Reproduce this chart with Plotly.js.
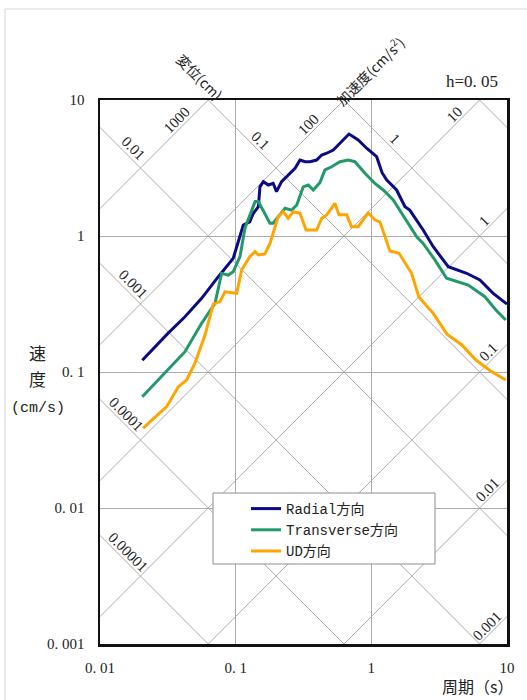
<!DOCTYPE html>
<html>
<head>
<meta charset="utf-8">
<script src="https://cdn.plot.ly/plotly-3.0.1.min.js"></script>
<style>html,body{margin:0;padding:0;background:#fff;}</style>
</head>
<body>
<div id="chart" style="width:527px;height:700px;"></div>
<script>
// ---- data (period s, pseudo velocity cm/s) ----
const radialT = [0.0205,0.0318,0.0423,0.0561,0.0745,0.0959,0.1045,0.1138,0.127,0.135,0.147,0.151,0.160,0.174,0.189,0.200,0.218,0.244,0.274,0.298,0.325,0.353,0.395,0.431,0.469,0.524,0.587,0.638,0.684,0.736,0.800,0.923,1.094,1.20,1.30,1.535,1.77,1.92,2.41,2.86,3.69,5.04,6.31,7.91,10];
const radialV = [0.122,0.193,0.255,0.348,0.502,0.685,0.908,1.205,1.27,1.47,1.64,2.30,2.51,2.37,2.44,2.12,2.51,2.81,3.15,3.62,3.52,3.52,3.62,3.94,4.06,4.29,4.81,5.23,5.62,5.37,5.08,4.42,3.83,2.92,2.58,2.18,1.64,1.55,1.107,0.834,0.594,0.532,0.475,0.379,0.316];

const transT = [0.0205,0.0318,0.0423,0.0561,0.0704,0.0788,0.0882,0.0959,0.1076,0.117,0.131,0.139,0.147,0.164,0.179,0.189,0.206,0.231,0.259,0.282,0.315,0.343,0.373,0.418,0.455,0.510,0.587,0.676,0.757,0.897,1.062,1.224,1.45,1.87,2.16,2.41,2.94,3.59,5.18,6.87,8.28,9.8];
const transV = [0.0658,0.1035,0.141,0.228,0.320,0.532,0.516,0.546,0.705,1.14,1.55,1.79,1.79,1.47,1.24,1.24,1.39,1.60,1.55,1.69,2.30,2.37,2.18,2.47,3.06,3.23,3.52,3.62,3.52,2.89,2.44,2.18,1.84,1.24,0.988,0.883,0.667,0.489,0.436,0.358,0.286,0.241];

const udT = [0.0208,0.031,0.0378,0.0435,0.0501,0.0594,0.0684,0.0766,0.0834,0.0959,0.1017,0.1107,0.127,0.139,0.147,0.164,0.179,0.206,0.224,0.244,0.266,0.298,0.330,0.395,0.431,0.469,0.539,0.577,0.658,0.715,0.800,0.949,1.062,1.157,1.37,1.60,1.98,2.24,2.86,3.61,4.65,5.90,7.48,9.8];
const udV = [0.0386,0.0556,0.078,0.0873,0.116,0.187,0.316,0.329,0.389,0.379,0.379,0.562,0.705,0.768,0.725,0.738,0.883,1.39,1.51,1.35,1.51,1.47,1.107,1.107,1.35,1.43,1.74,1.43,1.43,1.17,1.17,1.48,1.31,1.27,0.776,0.746,0.532,0.356,0.270,0.190,0.158,0.1225,0.1025,0.0873];

const seriesNames = ['Radial方向','Transverse方向','UD方向'];

// tick labels
const xTickVals = [0.01,0.1,1,10];
const xTickText = ['0. 01','0. 1','1','10'];
const yTickVals = [0.001,0.01,0.1,1,10];
const yTickText = ['0. 001','0. 01','0. 1','1','10'];

// tripartite grid levels
const dispLevels = [0.00001,0.0001,0.001,0.01,0.1,1,10];      // cm
const accLevels  = [0.001,0.01,0.1,1,10,100,1000];            // cm/s^2
// label text and the period at which each label sits
const dispLabels = ['0.00001','0.0001','0.001','0.01','0.1','1'];
const dispLabelT = [0.0153,0.0148,0.0166,0.0166,0.146,1.42];
const accLabels  = ['0.001','0.01','0.1','1','10','100','1000'];
const accLabelT  = [7.48,7.5,7.7,7.11,4.28,0.365,0.0389];

const TWO_PI = 2*Math.PI;
const gridColor = '#ababab';
const serif = 'Liberation Serif, Noto Sans CJK JP, serif';
const mono = 'Liberation Mono, Noto Sans CJK JP, monospace';
const cjk = 'Noto Sans CJK JP, sans-serif';

const traces = [];
const Tends = [0.001, 100];
dispLevels.forEach(D => {
  traces.push({x: Tends, y: Tends.map(T => TWO_PI*D/T), mode:'lines', line:{color:gridColor,width:1}, hoverinfo:'skip', showlegend:false});
});
accLevels.forEach(A => {
  traces.push({x: Tends, y: Tends.map(T => A*T/TWO_PI), mode:'lines', line:{color:gridColor,width:1}, hoverinfo:'skip', showlegend:false});
});

const colors = ['#0b0b86','#23996a','#ffa500'];
[[radialT,radialV],[transT,transV],[udT,udV]].forEach((s,i) => {
  traces.push({x:s[0], y:s[1], mode:'lines', name:seriesNames[i], line:{color:colors[i], width:3}});
});

// pixel -> paper helpers (plot area 100..507 x, 100..644 y)
const L=100, R=20, Tm=100, B=56, W=527, H=700;
const pw = W-L-R, ph = H-Tm-B;
const px = x => (x-L)/pw;
const py = y => (H-B-y)/ph;

const annotations = [];
dispLabels.forEach((t,i) => {
  const D = parseFloat(t), T = dispLabelT[i];
  annotations.push({xref:'x', yref:'y', x:Math.log10(T), y:Math.log10(TWO_PI*D/T), text:t, showarrow:false,
    xanchor:'center', yanchor:'middle',
    textangle:45, yshift:9, xshift:3, font:{family:serif,size:15,color:'#222'}});
});
accLabels.forEach((t,i) => {
  const A = parseFloat(t), T = accLabelT[i];
  annotations.push({xref:'x', yref:'y', x:Math.log10(T), y:Math.log10(A*T/TWO_PI), text:t, showarrow:false,
    xanchor:'center', yanchor:'middle',
    textangle:-45, yshift:8, xshift:-3, font:{family:serif,size:15,color:'#222'}});
});
function note(x, y, text, font, angle) {
  annotations.push({xref:'paper', yref:'paper', x:px(x), y:py(y), text:text, showarrow:false,
    xanchor:'center', yanchor:'middle', textangle:angle||0, font:font});
}
note(200, 77, '変位(cm)', {family:cjk,size:14,color:'#222'}, 45);
note(369, 71, '加速度(cm/s<sup>2</sup>)', {family:cjk,size:14,color:'#222'}, -45);
note(472, 82, 'h=0. 05', {family:serif,size:17,color:'#222'});
note(37, 352, '速', {family:cjk,size:17,color:'#222'});
note(37, 378, '度', {family:cjk,size:17,color:'#222'});
note(38, 408, '(cm/s)', {family:mono,size:15,color:'#222'});
note(478, 686, '周期（s）', {family:cjk,size:16,color:'#222'});

const shapes = [
  {type:'rect', xref:'paper', yref:'paper', x0:px(5), x1:px(540), y0:py(9), y1:py(720), line:{color:'#d4d4d4',width:1}, fillcolor:'rgba(0,0,0,0)', layer:'below'},
  {type:'rect', xref:'paper', yref:'paper', x0:px(213), x1:px(435), y0:py(493), y1:py(564), line:{color:'#8c8c8c',width:1}, fillcolor:'#ffffff', layer:'above'}
];

const layout = {
  width:W, height:H, autosize:false,
  margin:{l:L, r:R, t:Tm, b:B, pad:0},
  paper_bgcolor:'#ffffff', plot_bgcolor:'#ffffff',
  showlegend:true,
  legend:{x:px(246), y:py(493), xanchor:'left', yanchor:'top', bgcolor:'rgba(0,0,0,0)', borderwidth:0,
    font:{family:mono,size:14,color:'#222'}, tracegroupgap:0},
  xaxis:{type:'log', range:[-2,1], tickvals:xTickVals, ticktext:xTickText, ticks:'', showgrid:true, gridcolor:gridColor, gridwidth:1,
    showline:true, mirror:true, linecolor:'#111', linewidth:2.5, ticklabelstandoff:8,
    tickfont:{family:serif,size:15,color:'#222'}, zeroline:false},
  yaxis:{type:'log', range:[-3,1], tickvals:yTickVals, ticktext:yTickText, ticks:'', showgrid:true, gridcolor:gridColor, gridwidth:1,
    showline:true, mirror:true, linecolor:'#111', linewidth:2.5, ticklabelstandoff:10,
    tickfont:{family:serif,size:15,color:'#222'}, zeroline:false},
  annotations:annotations,
  shapes:shapes
};

Plotly.newPlot('chart', traces, layout, {staticPlot:true, displayModeBar:false});
</script>
</body>
</html>
